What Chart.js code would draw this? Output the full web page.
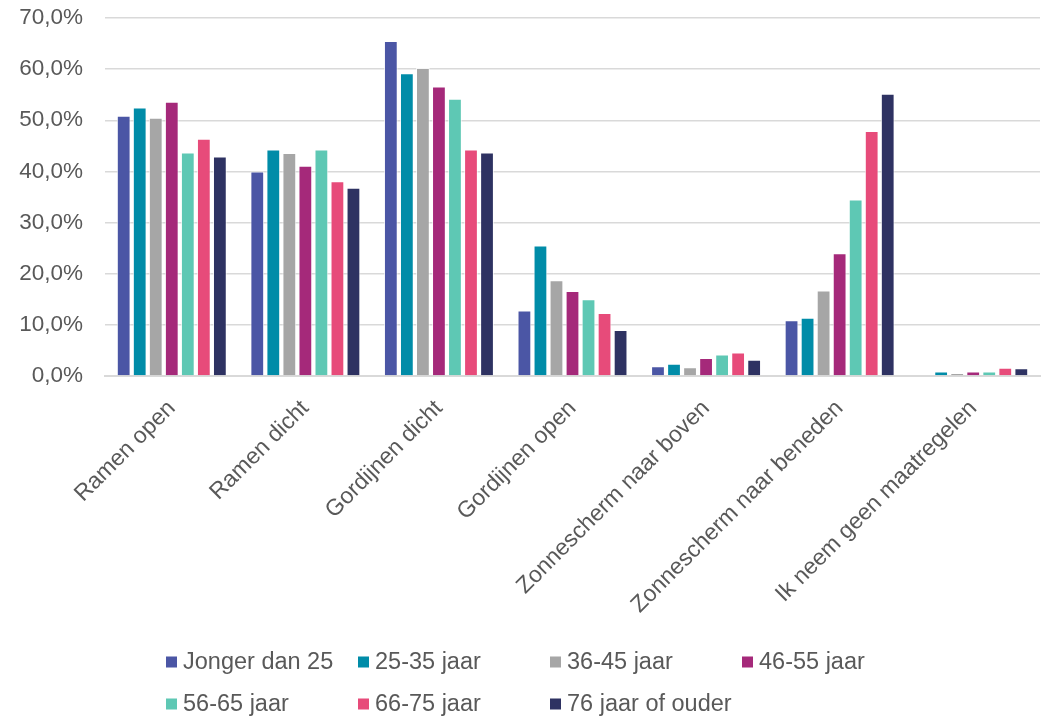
<!DOCTYPE html>
<html>
<head>
<meta charset="utf-8">
<script src="https://cdn.jsdelivr.net/npm/chart.js@4.4.1/dist/chart.umd.min.js"></script>
<style>
  html, body { margin: 0; padding: 0; background: #ffffff; }
  #wrap { width: 1043px; height: 718px; position: relative; }
</style>
</head>
<body>
<div id="wrap"><canvas id="chart" width="1043" height="718"></canvas></div>
<script>
// Maatregelen tegen warmte, per leeftijdsgroep (percentage respondenten)
const categories = [
  'Ramen open',
  'Ramen dicht',
  'Gordijnen dicht',
  'Gordijnen open',
  'Zonnescherm naar boven',
  'Zonnescherm naar beneden',
  'Ik neem geen maatregelen'
];

const seriesNames = [
  'Jonger dan 25',
  '25-35 jaar',
  '36-45 jaar',
  '46-55 jaar',
  '56-65 jaar',
  '66-75 jaar',
  '76 jaar of ouder'
];

const jongerDan25   = [50.9, 40.0, 65.5, 12.8, 1.9, 10.9, 0.0];
const jaar25tot35   = [52.5, 44.3, 59.2, 25.5, 2.4, 11.4, 0.9];
const jaar36tot45   = [50.5, 43.6, 60.2, 18.7, 1.7, 16.7, 0.6];
const jaar46tot55   = [53.6, 41.1, 56.6, 16.6, 3.5, 24.0, 0.9];
const jaar56tot65   = [43.7, 44.3, 54.2, 15.0, 4.2, 34.5, 0.9];
const jaar66tot75   = [46.4, 38.1, 44.3, 12.3, 4.6, 47.9, 1.6];
const jaar76ofOuder = [42.9, 36.8, 43.7, 9.0, 3.2, 55.2, 1.5];

const yTicks = [0, 10, 20, 30, 40, 50, 60, 70];

const seriesValues = [jongerDan25, jaar25tot35, jaar36tot45, jaar46tot55, jaar56tot65, jaar66tot75, jaar76ofOuder];
const seriesColors = ['#4B56A5', '#008CA8', '#A6A6A6', '#A5297A', '#5EC8B4', '#E74B7A', '#2E3262'];

const textColor = '#595959';
const gridColor = '#D9D9D9';
const fontFamily = '"Liberation Sans", Arial, sans-serif';
const fontSize = 22.5;
const categoryFontSize = 23;
const legendFontSize = 23.5;

// Legend laid out as a fixed grid: 4 columns, rows 42px apart
const gridLegend = {
  id: 'gridLegend',
  afterDraw(chart) {
    const ctx = chart.ctx;
    const cols = 4, colW = 192, rowH = 42, box = 11, gap = 6;
    ctx.save();
    ctx.font = legendFontSize + 'px ' + fontFamily;
    const x0 = 166, y0 = 662;
    chart.data.datasets.forEach((ds, i) => {
      const c = i % cols, r = Math.floor(i / cols);
      const x = x0 + c * colW, y = y0 + r * rowH;
      ctx.fillStyle = ds.backgroundColor;
      ctx.fillRect(x, y - box / 2, box, box);
      ctx.fillStyle = textColor;
      ctx.textAlign = 'left';
      ctx.textBaseline = 'middle';
      ctx.fillText(ds.label, x + box + gap, y + 1);
    });
    ctx.restore();
  }
};

new Chart(document.getElementById('chart'), {
  type: 'bar',
  data: {
    labels: categories,
    datasets: seriesNames.map((name, i) => ({
      label: name,
      data: seriesValues[i],
      backgroundColor: seriesColors[i],
      borderColor: 'rgba(255,255,255,0.75)',
      borderWidth: 1,
      borderSkipped: 'bottom',
      barPercentage: 0.86,
      categoryPercentage: 0.84
    }))
  },
  options: {
    responsive: false,
    animation: false,
    devicePixelRatio: 1,
    layout: { padding: { top: 18, right: 3, bottom: 95, left: 0 } },
    plugins: {
      legend: { display: false },
      tooltip: { enabled: false }
    },
    scales: {
      x: {
        grid: { display: false, drawTicks: false },
        border: { display: true, color: gridColor, width: 2 },
        ticks: {
          color: textColor,
          font: { family: fontFamily, size: categoryFontSize },
          maxRotation: 45,
          minRotation: 45,
          padding: 19,
          autoSkip: false
        },
        afterFit(scale) {
          scale.height = 247;
          scale.paddingTop = 0;
          scale.paddingBottom = 0;
        }
      },
      y: {
        min: 0,
        max: 70,
        afterBuildTicks(scale) { scale.ticks = yTicks.map(v => ({ value: v })); },
        grid: { color: gridColor, lineWidth: 1.5, drawTicks: false },
        border: { display: false },
        ticks: {
          color: textColor,
          font: { family: fontFamily, size: fontSize },
          padding: 22,
          callback: v => v.toFixed(1).replace('.', ',') + '%'
        },
        afterFit(scale) {
          scale.width = 105;
          scale.paddingTop = 0;
          scale.paddingBottom = 0;
        }
      }
    }
  },
  plugins: [gridLegend]
});
</script>
</body>
</html>
